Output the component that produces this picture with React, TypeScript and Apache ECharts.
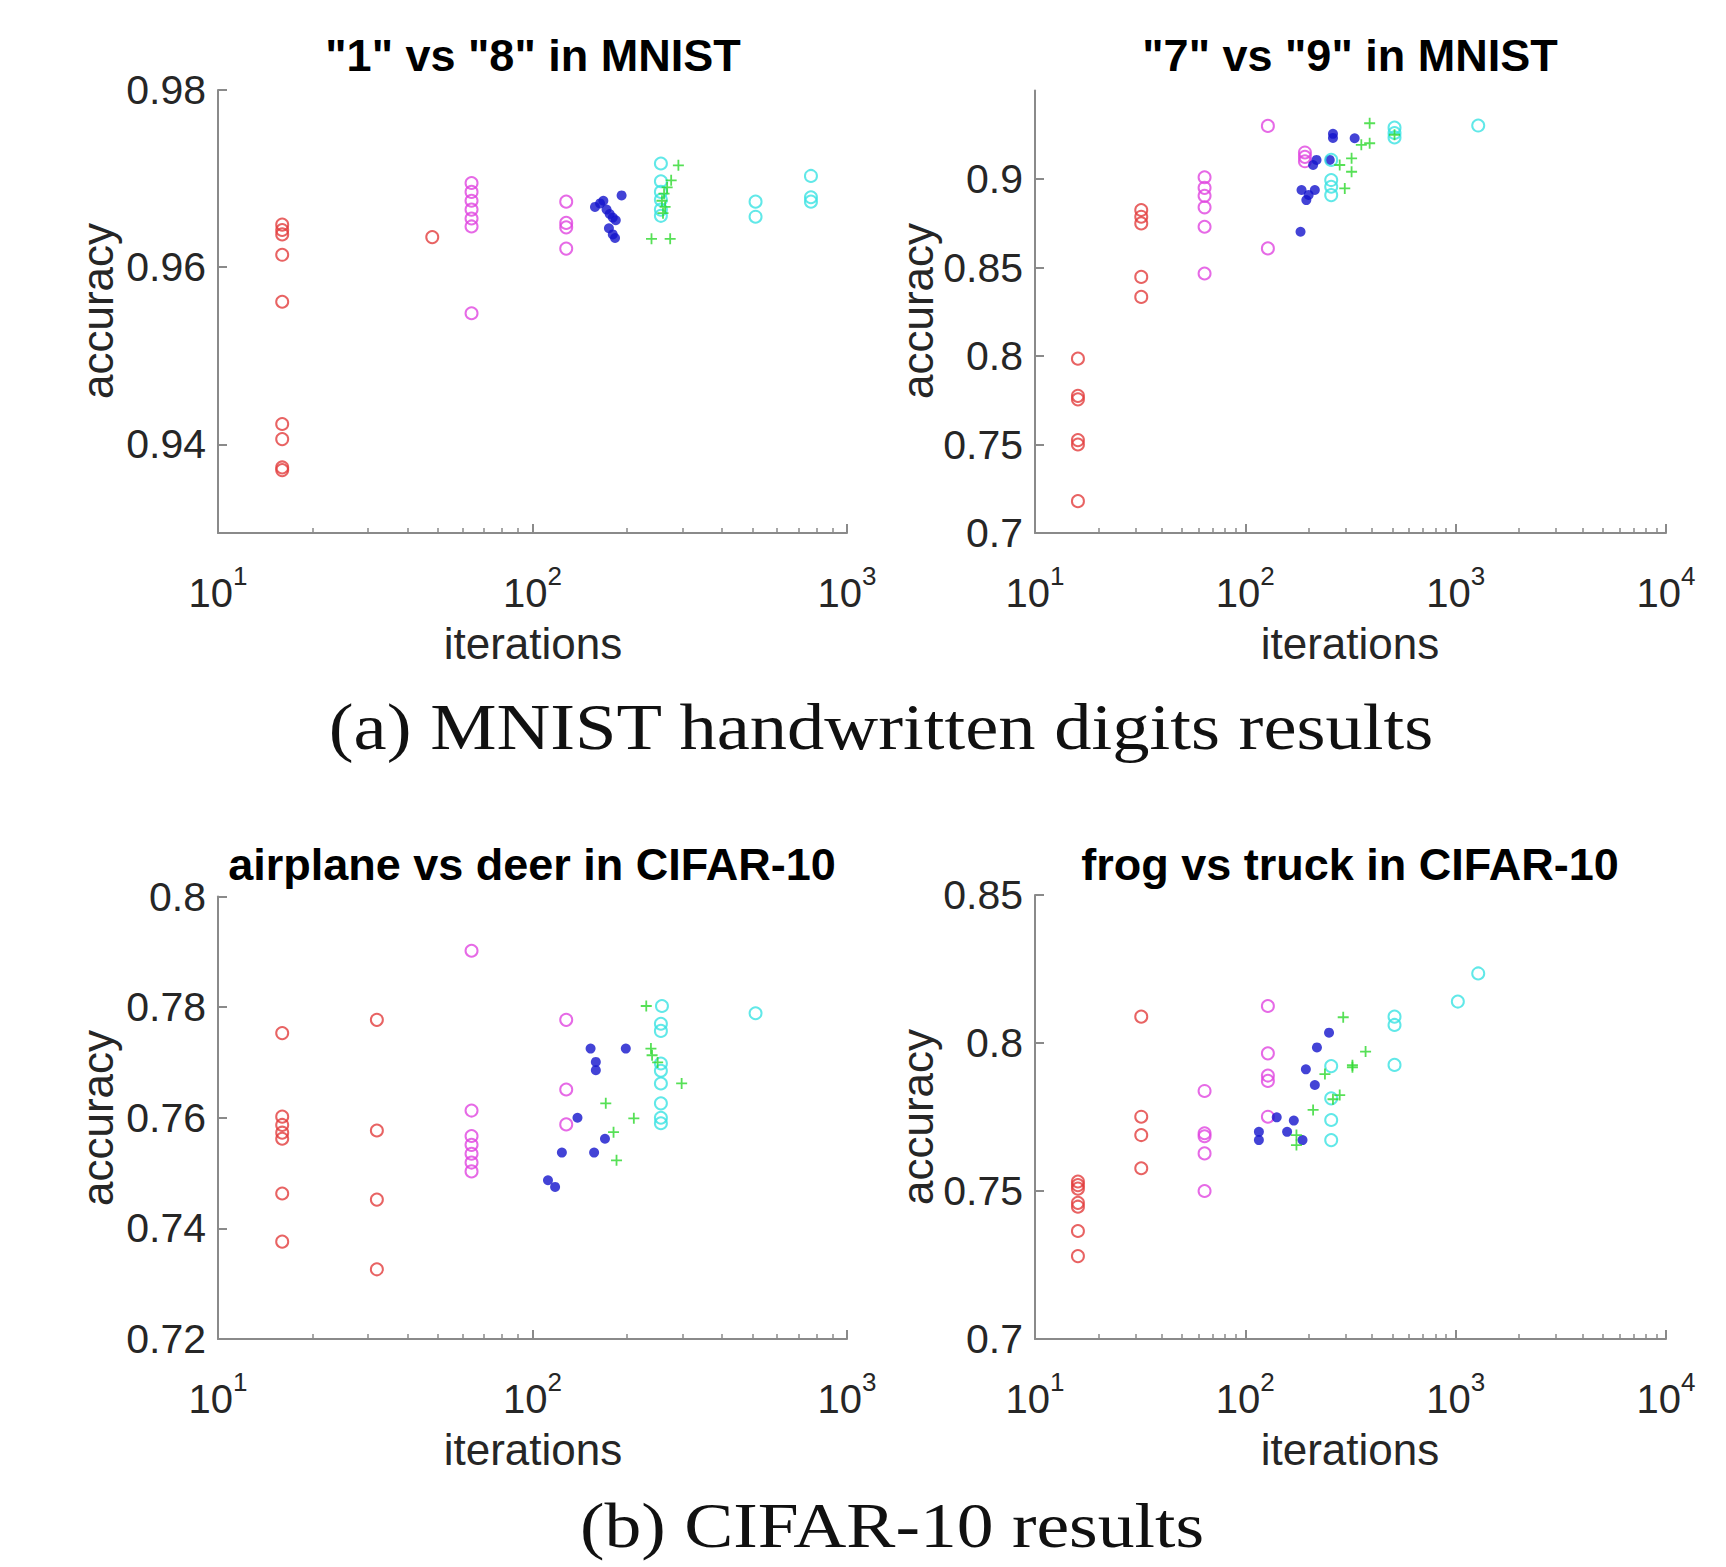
import React, { useEffect, useRef } from "react";
import * as echarts from "echarts";

// ---------------- data (iterations, accuracy) ----------------
// Panel 1: "1" vs "8" in MNIST
const p1Red = [[16, 0.9648], [16, 0.9642], [16, 0.9637], [16, 0.9614], [16, 0.9561], [16, 0.9423], [16, 0.9406], [16, 0.9374], [16, 0.9371], [48, 0.9634]];
const p1Magenta = [[64, 0.9695], [64, 0.9685], [64, 0.9675], [64, 0.9665], [64, 0.9655], [64, 0.9646], [64, 0.9548], [128, 0.9674], [128, 0.965], [128, 0.9645], [128, 0.9621]];
const p1Blue = [[158, 0.9668], [164, 0.9672], [168, 0.9675], [172, 0.9665], [176, 0.966], [180, 0.9656], [184, 0.9653], [175, 0.9644], [180, 0.9637], [183, 0.9633], [192, 0.9681]];
const p1Green = [[291, 0.9715], [276, 0.9698], [268, 0.969], [262, 0.9683], [258, 0.9675], [264, 0.9668], [260, 0.9661], [239, 0.9632], [274, 0.9632]];
const p1Cyan = [[256, 0.9717], [256, 0.9697], [256, 0.9685], [256, 0.9676], [256, 0.9665], [256, 0.9658], [512, 0.9674], [512, 0.9657], [768, 0.9703], [768, 0.9679], [768, 0.9674]];

// Panel 2: "7" vs "9" in MNIST
const p2Red = [[16, 0.7985], [16, 0.7775], [16, 0.7755], [16, 0.7525], [16, 0.75], [16, 0.718], [32, 0.8825], [32, 0.8787], [32, 0.8749], [32, 0.8447], [32, 0.8334]];
const p2Magenta = [[64, 0.901], [64, 0.895], [64, 0.8905], [64, 0.884], [64, 0.873], [64, 0.8466], [128, 0.93], [128, 0.8608], [192, 0.915], [192, 0.9125], [192, 0.91]];
const p2Blue = [[261, 0.9255], [261, 0.9232], [331, 0.923], [218, 0.9108], [210, 0.9079], [252, 0.9108], [185, 0.8938], [214, 0.8938], [195, 0.8881], [200, 0.891], [183, 0.8702]];
const p2Green = [[390, 0.9315], [390, 0.9202], [356, 0.9193], [320, 0.9117], [281, 0.9079], [320, 0.9041], [297, 0.8947], [512, 0.925]];
const p2Cyan = [[256, 0.9108], [256, 0.8994], [256, 0.8956], [256, 0.8909], [512, 0.929], [512, 0.926], [512, 0.9235], [1280, 0.9302]];

// Panel 3: airplane vs deer in CIFAR-10
const p3Red = [[16, 0.7753], [16, 0.7602], [16, 0.7587], [16, 0.7573], [16, 0.7562], [16, 0.7463], [16, 0.7376], [32, 0.7777], [32, 0.7577], [32, 0.7452], [32, 0.7326]];
const p3Magenta = [[64, 0.7902], [64, 0.7613], [64, 0.7567], [64, 0.7551], [64, 0.7535], [64, 0.7519], [64, 0.7503], [128, 0.7777], [128, 0.7651], [128, 0.7588]];
const p3Blue = [[153, 0.7725], [198, 0.7725], [159, 0.7701], [159, 0.7686], [139, 0.76], [124, 0.7537], [157, 0.7537], [170, 0.7562], [112, 0.7487], [118, 0.7475]];
const p3Green = [[230, 0.7802], [238, 0.7725], [240, 0.7713], [250, 0.77], [298, 0.7662], [171, 0.7626], [210, 0.7599], [181, 0.7574], [185, 0.7523]];
const p3Cyan = [[258, 0.7802], [256, 0.777], [256, 0.7757], [256, 0.7698], [256, 0.7685], [256, 0.7662], [256, 0.7626], [256, 0.76], [256, 0.759], [512, 0.7789]];

// Panel 4: frog vs truck in CIFAR-10
const p4Red = [[16, 0.7532], [16, 0.752], [16, 0.7508], [16, 0.746], [16, 0.7447], [16, 0.7365], [16, 0.728], [32, 0.8089], [32, 0.7751], [32, 0.7689], [32, 0.7577]];
const p4Magenta = [[64, 0.7838], [64, 0.7695], [64, 0.7685], [64, 0.7627], [64, 0.75], [128, 0.8125], [128, 0.7965], [128, 0.789], [128, 0.7872], [128, 0.7751]];
const p4Blue = [[250, 0.8035], [219, 0.7985], [194, 0.7911], [214, 0.7858], [141, 0.7749], [170, 0.7738], [158, 0.77], [187, 0.7672], [116, 0.77], [116, 0.7672]];
const p4Green = [[292, 0.8087], [373, 0.7971], [323, 0.7925], [323, 0.7918], [239, 0.7895], [281, 0.7824], [261, 0.781], [210, 0.7774], [175, 0.7689], [175, 0.7655]];
const p4Cyan = [[256, 0.7922], [256, 0.7813], [256, 0.774], [256, 0.7672], [512, 0.8089], [512, 0.8061], [512, 0.7926], [1024, 0.814], [1280, 0.8235]];

// tick values
const yTicksP1 = [0.94, 0.96, 0.98];
const yTicksP2 = [0.7, 0.75, 0.8, 0.85, 0.9];
const yTicksP3 = [0.72, 0.74, 0.76, 0.78, 0.8];
const yTicksP4 = [0.7, 0.75, 0.8, 0.85];
const xMaxP13 = 1000;
const xMaxP24 = 10000;

const titles = ['"1" vs "8" in MNIST', '"7" vs "9" in MNIST', "airplane vs deer in CIFAR-10", "frog vs truck in CIFAR-10"];
const captionA = "(a) MNIST handwritten digits results";
const captionB = "(b) CIFAR-10 results";

// ---------------- styles ----------------
const SANS = "'Liberation Sans', Arial, Helvetica, sans-serif";
const SERIF = "'Liberation Serif', 'Times New Roman', serif";
const AXIS_GRAY = "#8a8a8a";
const LABEL_COLOR = "#262626";
const C = { red: "#e23c3c", magenta: "#e045e0", blue: "#1414cc", green: "#2cd82c", cyan: "#3ae2e2" };
const PLUS = "path://M0,5L10,5M5,0L5,10";

const panels = [
  { grid: { left: 218, top: 90, width: 629, height: 443 }, xMax: xMaxP13, yMin: 0.93, yMax: 0.98, yTicks: yTicksP1, red: p1Red, magenta: p1Magenta, blue: p1Blue, green: p1Green, cyan: p1Cyan },
  { grid: { left: 1035, top: 90.5, width: 631, height: 442.5 }, xMax: xMaxP24, yMin: 0.7, yMax: 0.95, yTicks: yTicksP2, red: p2Red, magenta: p2Magenta, blue: p2Blue, green: p2Green, cyan: p2Cyan },
  { grid: { left: 218, top: 896.5, width: 629, height: 442.5 }, xMax: xMaxP13, yMin: 0.72, yMax: 0.8, yTicks: yTicksP3, red: p3Red, magenta: p3Magenta, blue: p3Blue, green: p3Green, cyan: p3Cyan },
  { grid: { left: 1035, top: 895, width: 631, height: 444 }, xMax: xMaxP24, yMin: 0.7, yMax: 0.85, yTicks: yTicksP4, red: p4Red, magenta: p4Magenta, blue: p4Blue, green: p4Green, cyan: p4Cyan },
];

function minorTickValues(xMax: number) {
  const out: number[] = [];
  for (let d = 10; d < xMax; d *= 10) {
    for (let k = 2; k <= 9; k++) out.push(k * d);
  }
  return out;
}

function buildOption() {
  const grid = panels.map((p) => ({ ...p.grid, containLabel: false, outerBoundsMode: "none" }));
  const mainX = panels.map((p, i) => ({
    type: "log",
    logBase: 10,
    gridIndex: i,
    min: 10,
    max: p.xMax,
    axisLine: { show: true, onZero: false, lineStyle: { color: AXIS_GRAY, width: 2 } },
    axisTick: { show: true, inside: true, length: 9, lineStyle: { color: AXIS_GRAY, width: 2 } },
    minorTick: { show: false },
    splitLine: { show: false },
    axisLabel: {
      show: true,
      margin: 30,
      showMinLabel: true,
      showMaxLabel: true,
      formatter: (v: number) => `{b|10}{s|${Math.round(Math.log10(v))}}`,
      rich: {
        b: { fontSize: 40, lineHeight: 50, verticalAlign: "bottom", fontFamily: SANS, color: LABEL_COLOR },
        s: { fontSize: 26, lineHeight: 16, verticalAlign: "top", fontFamily: SANS, color: LABEL_COLOR },
      },
    },
  }));
  const minorX = panels.map((p, i) => ({
    type: "log",
    logBase: 10,
    gridIndex: i,
    min: 10,
    max: p.xMax,
    position: "bottom",
    axisLine: { show: false, onZero: false },
    axisTick: { show: true, inside: true, length: 5, customValues: minorTickValues(p.xMax), lineStyle: { color: AXIS_GRAY, width: 1.5 } },
    axisLabel: { show: false },
    splitLine: { show: false },
  }));
  const yAxis = panels.map((p, i) => ({
    type: "value",
    gridIndex: i,
    min: p.yMin,
    max: p.yMax,
    axisLine: { show: true, onZero: false, lineStyle: { color: AXIS_GRAY, width: 2 } },
    axisTick: { show: true, inside: true, length: 9, customValues: p.yTicks, lineStyle: { color: AXIS_GRAY, width: 2 } },
    splitLine: { show: false },
    axisLabel: {
      show: true,
      margin: 12,
      customValues: p.yTicks,
      formatter: (v: number) => String(v),
      fontSize: 41,
      fontFamily: SANS,
      color: LABEL_COLOR,
    },
  }));

  const ring = (color: string) => ({ color: "rgba(0,0,0,0)", borderColor: color, borderWidth: 2 });
  const series: any[] = [];
  panels.forEach((p, i) => {
    const base = { type: "scatter", xAxisIndex: i, yAxisIndex: i, silent: true };
    series.push({ ...base, name: "red", data: p.red, symbol: "circle", symbolSize: 12, itemStyle: ring(C.red), z: 2 });
    series.push({ ...base, name: "magenta", data: p.magenta, symbol: "circle", symbolSize: 12, itemStyle: ring(C.magenta), z: 2 });
    series.push({ ...base, name: "blue", data: p.blue, symbol: "circle", symbolSize: 10, itemStyle: { color: C.blue, borderWidth: 0 }, z: 3 });
    series.push({ ...base, name: "green", data: p.green, symbol: PLUS, symbolSize: 11, itemStyle: { color: "rgba(0,0,0,0)", borderColor: C.green, borderWidth: 1.8 }, z: 4 });
    series.push({ ...base, name: "cyan", data: p.cyan, symbol: "circle", symbolSize: 12, itemStyle: ring(C.cyan), z: 3 });
  });

  const titlePos = [[533, 55], [1350, 55], [532, 864], [1350, 864]];
  const accPos = [[97, 311], [917, 311], [97, 1118], [917, 1117]];
  const iterPos = [[533, 643], [1350, 643], [533, 1449], [1350, 1449]];
  const graphic: any[] = [];
  titles.forEach((t, i) => {
    graphic.push({ type: "text", x: titlePos[i][0], y: titlePos[i][1], silent: true, style: { text: t, fontSize: 45, fontWeight: "bold", fontFamily: SANS, fill: "#000", align: "center", verticalAlign: "middle" } });
    graphic.push({ type: "text", x: accPos[i][0], y: accPos[i][1], rotation: Math.PI / 2, silent: true, style: { text: "accuracy", fontSize: 44, fontFamily: SANS, fill: LABEL_COLOR, align: "center", verticalAlign: "middle" } });
    graphic.push({ type: "text", x: iterPos[i][0], y: iterPos[i][1], silent: true, style: { text: "iterations", fontSize: 44, fontFamily: SANS, fill: LABEL_COLOR, align: "center", verticalAlign: "middle" } });
  });
  graphic.push({ type: "text", x: 881, y: 727, scaleX: 1.13, silent: true, style: { text: captionA, fontSize: 66, fontFamily: SERIF, fill: "#111", align: "center", verticalAlign: "middle" } });
  graphic.push({ type: "text", x: 892, y: 1526, scaleX: 1.15, silent: true, style: { text: captionB, fontSize: 64, fontFamily: SERIF, fill: "#111", align: "center", verticalAlign: "middle" } });

  return {
    animation: false,
    backgroundColor: "#ffffff",
    textStyle: { fontFamily: SANS },
    grid,
    xAxis: [...mainX, ...minorX],
    yAxis,
    series,
    graphic,
  };
}

export default function App() {
  const ref = useRef<HTMLDivElement>(null);
  useEffect(() => {
    if (!ref.current) return;
    const chart = echarts.init(ref.current, undefined, { renderer: "svg" });
    chart.setOption(buildOption() as any);
    return () => chart.dispose();
  }, []);
  return <div ref={ref} style={{ position: "absolute", left: 0, top: 0, width: 1726, height: 1567, background: "#fff" }} />;
}
